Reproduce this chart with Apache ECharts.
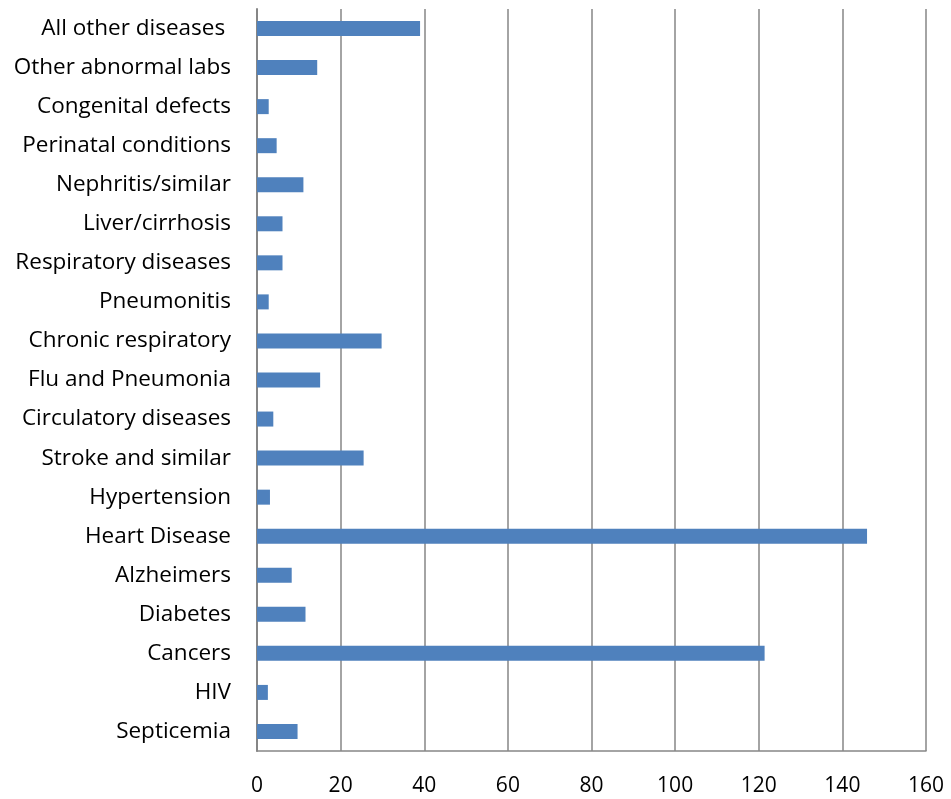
<!DOCTYPE html>
<html>
<head>
<meta charset="utf-8">
<script src="https://cdn.jsdelivr.net/npm/echarts@6/dist/echarts.min.js"></script>
<style>html,body{margin:0;padding:0;background:#fff;}#c{width:951px;height:799px;}</style>
</head>
<body>
<div id="c"></div>
<script>
const categories = ["Septicemia","HIV","Cancers","Diabetes","Alzheimers","Heart Disease","Hypertension","Stroke and similar","Circulatory diseases","Flu and Pneumonia","Chronic respiratory","Pneumonitis","Respiratory diseases","Liver/cirrhosis","Nephritis/similar","Perinatal conditions","Congenital defects","Other abnormal labs","All other diseases "];
const values = [9.7,2.6,121.4,11.6,8.3,145.9,3.1,25.5,3.9,15.1,29.8,2.8,6.1,6.1,11.1,4.7,2.8,14.4,39.0];
const xTicks = [0,20,40,60,80,100,120,140,160];

const chart = echarts.init(document.getElementById('c'));
chart.setOption({
  animation: false,
  grid: {left: 257, right: 25, top: 9, bottom: 48, containLabel: false},
  xAxis: {
    type: 'value', min: xTicks[0], max: xTicks[xTicks.length-1], interval: 20,
    axisLine: {show: true, lineStyle: {color: '#868686', width: 1.5}},
    axisTick: {show: false},
    splitLine: {show: true, lineStyle: {color: '#868686', width: 1.5}},
    axisLabel: {color: '#000', fontSize: 21, fontFamily: 'Open Sans', margin: 25}
  },
  yAxis: {
    type: 'category', data: categories,
    axisLine: {show: true, lineStyle: {color: '#868686', width: 2}},
    axisTick: {show: false},
    axisLabel: {color: '#000', fontSize: 22.5, fontFamily: 'Open Sans', margin: 26}
  },
  series: [{
    type: 'bar', data: values, barWidth: 15,
    itemStyle: {color: '#4F81BD'}
  }]
});
</script>
</body>
</html>
